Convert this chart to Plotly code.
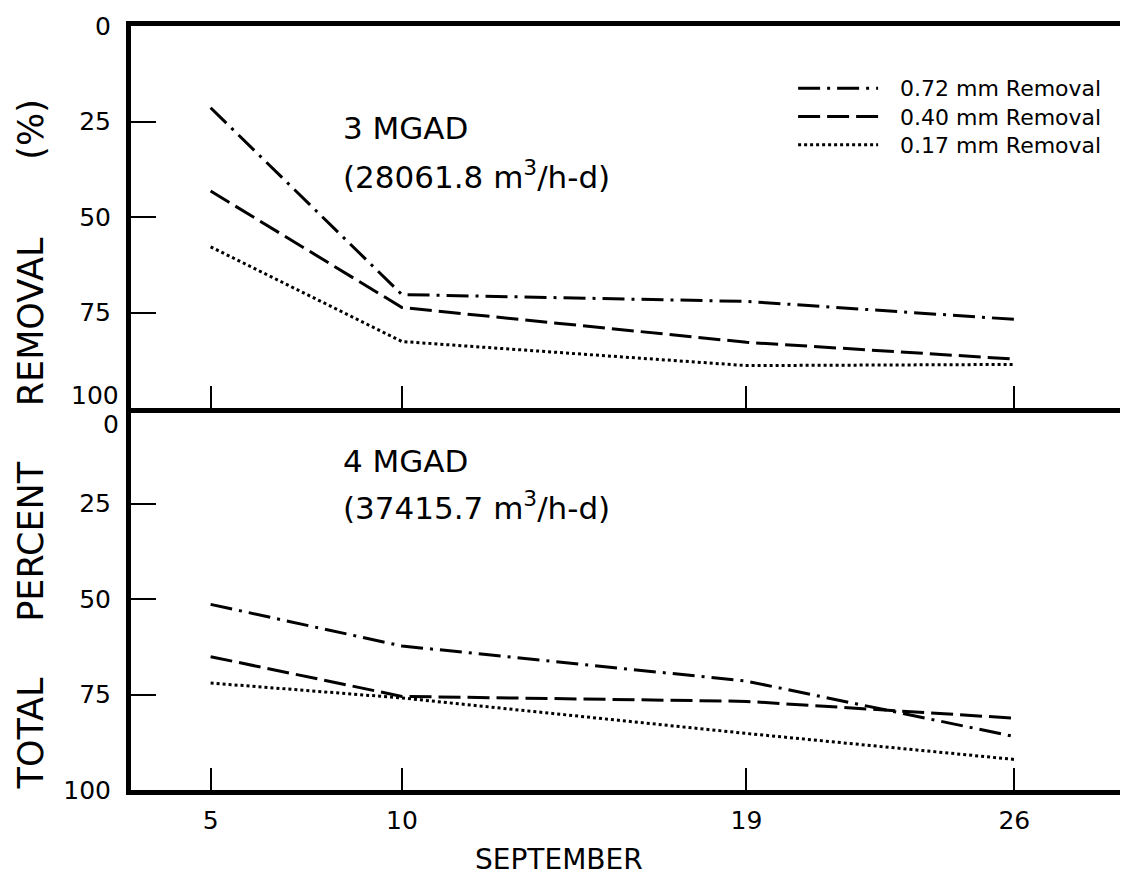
import plotly.graph_objects as go
from plotly.subplots import make_subplots

# ---- data ----
days = [5, 10, 19, 26]
day_labels = ["5", "10", "19", "26"]
series_names = ["0.72 mm Removal", "0.40 mm Removal", "0.17 mm Removal"]

# 3 MGAD panel (top)
top_072 = [21.4, 70.3, 72.1, 76.8]
top_040 = [43.2, 73.7, 82.8, 87.2]
top_017 = [57.8, 82.6, 88.9, 88.6]

# 4 MGAD panel (bottom)
bot_072 = [51.4, 62.3, 71.5, 86.0]
bot_040 = [65.1, 75.5, 76.8, 81.2]
bot_017 = [72.0, 75.9, 85.2, 92.0]

y_ticks_top = [0, 25, 50, 75]
y_ticks_bot = [25, 50, 75, 100]

dashes = ["22px,7px,3px,7px", "22px,7px", "3px,3px"]
FONT = "DejaVu Sans"

fig = make_subplots(rows=2, cols=1, vertical_spacing=0)

for panel, data in ((1, [top_072, top_040, top_017]), (2, [bot_072, bot_040, bot_017])):
    for name, vals, dash in zip(series_names, data, dashes):
        fig.add_trace(
            go.Scatter(x=days, y=vals, mode="lines", name=name, showlegend=False,
                       line=dict(color="black", width=3, dash=dash)),
            row=panel, col=1)

xr = [2.92, 29.1]
common_x = dict(range=xr, tickvals=days, ticktext=day_labels, ticks="inside", ticklen=22,
                tickwidth=2, tickcolor="black", showline=True, linewidth=5, linecolor="black",
                showgrid=False, zeroline=False, tickfont=dict(family=FONT, size=25, color="black"))
fig.update_xaxes(**common_x)
fig.update_xaxes(showticklabels=False, mirror=True, row=1, col=1)
fig.update_xaxes(showticklabels=True, ticklabelstandoff=4, row=2, col=1)

common_y = dict(range=[100, 0], ticks="inside", ticklen=25, tickwidth=2, tickcolor="black",
                showline=True, linewidth=5, linecolor="black", showgrid=False, zeroline=False,
                tickfont=dict(family=FONT, size=25, color="black"), ticklabelstandoff=10)
fig.update_yaxes(**common_y)
fig.update_yaxes(tickvals=y_ticks_top, row=1, col=1)
fig.update_yaxes(tickvals=y_ticks_bot, row=2, col=1)

TXT = dict(family=FONT, size=31, color="black")
annotations = [
    dict(text="3 MGAD", x=8.4, y=26.6, xref="x", yref="y", xanchor="left", yanchor="middle",
         showarrow=False, font=TXT),
    dict(text="(28061.8 m<sup>3</sup>/h-d)", x=8.4, y=39.0, xref="x", yref="y", xanchor="left",
         yanchor="middle", showarrow=False, font=TXT),
    dict(text="4 MGAD", x=8.4, y=14.0, xref="x2", yref="y2", xanchor="left", yanchor="middle",
         showarrow=False, font=TXT),
    dict(text="(37415.7 m<sup>3</sup>/h-d)", x=8.4, y=25.6, xref="x2", yref="y2", xanchor="left",
         yanchor="middle", showarrow=False, font=TXT),
    # end labels shifted apart where the two panels meet
    dict(text="100", x=0, y=100, xref="paper", yref="y", xanchor="right", yanchor="middle",
         xshift=-10, yshift=13, showarrow=False, font=dict(family=FONT, size=25, color="black")),
    dict(text="0", x=0, y=0, xref="paper", yref="y2", xanchor="right", yanchor="middle",
         xshift=-10, yshift=-16, showarrow=False, font=dict(family=FONT, size=25, color="black")),
    dict(text="TOTAL     PERCENT     REMOVAL       (%)", x=-0.1, y=0.452, xref="paper", yref="paper",
         xanchor="center", yanchor="middle", textangle=-90, showarrow=False,
         font=dict(family=FONT, size=35, color="black")),
    dict(text="SEPTEMBER", x=0.427, y=-0.0916, xref="paper", yref="paper",
         xanchor="center", yanchor="middle", showarrow=False,
         font=dict(family=FONT, size=28, color="black")),
]

# manual legend (top-right of the upper panel)
legend_mid = 23.7
row_step = 7.4
legend_rows = [legend_mid - row_step, legend_mid, legend_mid + row_step]
shapes = []
for dash, yv in zip(dashes, legend_rows):
    shapes.append(dict(type="line", xref="x", yref="y", x0=20.35, x1=22.44, y0=yv, y1=yv,
                       line=dict(color="black", width=3, dash=dash)))
annotations.append(dict(text="<br>".join(series_names), x=22.95, y=legend_mid, xref="x", yref="y",
                        xanchor="left", yanchor="middle", align="left", showarrow=False,
                        font=dict(family=FONT, size=22, color="black")))

fig.update_layout(width=1128, height=875, margin=dict(l=123, r=3, t=18, b=93),
                  plot_bgcolor="white", paper_bgcolor="white",
                  annotations=annotations, shapes=shapes, showlegend=False,
                  font=dict(family=FONT, color="black"))

fig.write_html("out.html")
